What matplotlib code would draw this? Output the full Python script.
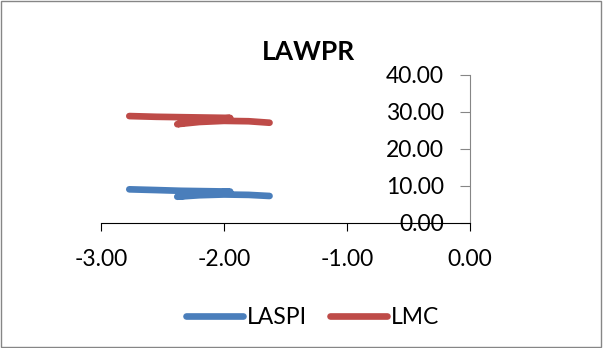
import matplotlib.pyplot as plt
from matplotlib.patches import Rectangle

# LAWPR on the x axis, two series against it
lawpr = [-2.77, -2.55, -2.35, -2.15, -1.95, -2.05, -2.25, -2.38, -2.2, -2.0, -1.8, -1.63]
laspi = [9.1, 8.9, 8.7, 8.6, 8.5, 8.2, 7.7, 7.1, 7.5, 7.7, 7.6, 7.3]
lmc = [28.9, 28.7, 28.6, 28.5, 28.4, 28.1, 27.6, 26.7, 27.3, 27.6, 27.5, 27.1]

xticks = [-3, -2, -1, 0]
yticks = [0, 10, 20, 30, 40]

plt.rcParams['font.family'] = ['Lato', 'DejaVu Sans']

fig = plt.figure(figsize=(6.03, 3.48), dpi=100)
ax = fig.add_axes([0.1675, 0.3592, 0.612, 0.4253])

ax.plot(lawpr, laspi, color='#4A7EBB', lw=4.8, solid_capstyle='round',
        solid_joinstyle='round', label='LASPI')
ax.plot(lawpr, lmc, color='#BE4B48', lw=4.8, solid_capstyle='round',
        solid_joinstyle='round', label='LMC')

ax.set_xlim(-3, 0)
ax.set_ylim(0, 40)
ax.set_xticks(xticks)
ax.set_yticks(yticks)
ax.set_xticklabels(['%.2f' % v for v in xticks])
ax.set_yticklabels(['%.2f' % v for v in yticks])

for s in ['top', 'right']:
    ax.spines[s].set_visible(False)
ax.spines['left'].set_position(('data', 0))
ax.spines['left'].set_color('#868686')
ax.spines['bottom'].set_color('black')
ax.spines['left'].set_zorder(0)
ax.tick_params(axis='y', direction='out', length=7, color='#868686',
               labelsize=16.5, pad=12)
ax.tick_params(axis='x', direction='out', length=6, color='black',
               labelsize=16.5, pad=13)
ax.set_facecolor('none')

fig.text(0.511, 0.85, 'LAWPR', ha='center', va='center', fontsize=19,
         fontweight='bold')

leg = fig.legend(loc='center', bbox_to_anchor=(0.518, 0.088), ncol=2,
                 frameon=False, fontsize=16.5, handlelength=2.5,
                 handletextpad=0.15, columnspacing=1.0)

fig.patches.append(Rectangle((0.002, 0.003), 0.995, 0.994, transform=fig.transFigure,
                             fill=False, edgecolor='#868686', lw=1))

fig.savefig('out.png', dpi=100)
